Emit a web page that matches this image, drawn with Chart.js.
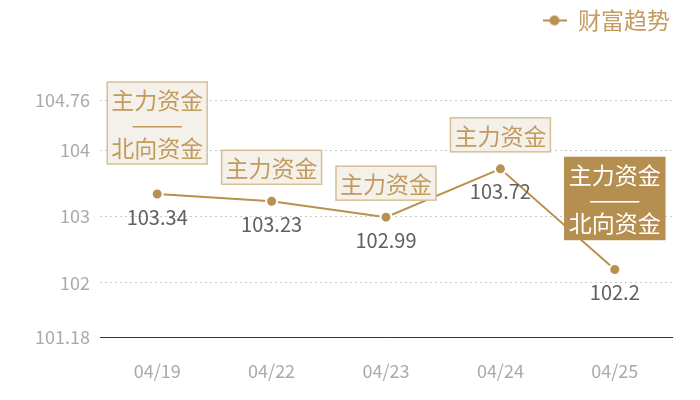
<!DOCTYPE html>
<html>
<head>
<meta charset="utf-8">
<script src="https://cdn.jsdelivr.net/npm/chart.js@4"></script>
<style>
  html, body { margin: 0; padding: 0; background: #fff; }
  #wrap { width: 700px; height: 400px; }
</style>
</head>
<body>
<div id="wrap"><canvas id="myChart"></canvas></div>
<script>
const categories = ['04/19', '04/22', '04/23', '04/24', '04/25']
const wealthValues = [103.34, 103.23, 102.99, 103.72, 102.2]
const yTicks = [101.18, 102, 103, 104, 104.76]
const boxLabels = [
  ['主力资金', '——', '北向资金'],
  ['主力资金'],
  ['主力资金'],
  ['主力资金'],
  ['主力资金', '——', '北向资金']
]
const highlighted = [false, false, false, false, true]

const gold = '#b8914f'
const cjk = '"Noto Sans CJK SC", "Noto Sans", sans-serif'

// legend marker: short line with a dot in the middle
const marker = document.createElement('canvas')
marker.width = 24
marker.height = 12
const mctx = marker.getContext('2d')
mctx.strokeStyle = gold
mctx.lineWidth = 2
mctx.beginPath()
mctx.moveTo(0, 6)
mctx.lineTo(24, 6)
mctx.stroke()
mctx.fillStyle = gold
mctx.beginPath()
mctx.arc(12, 6, 5, 0, Math.PI * 2)
mctx.fill()

const labelPlugin = {
  id: 'labelPlugin',
  afterDatasetsDraw(chart) {
    const c = chart.ctx
    const meta = chart.getDatasetMeta(0)
    meta.data.forEach((pt, i) => {
      // value under point
      c.save()
      c.font = '20px ' + cjk
      c.fillStyle = '#606060'
      c.textAlign = 'center'
      c.textBaseline = 'middle'
      c.fillText(String(wealthValues[i]), pt.x, pt.y + 23)

      // box above point
      const lines = boxLabels[i]
      const lh = 24
      const h = lines.length * lh + 10
      const w = 100
      const gap = lines.length > 1 ? 30 : 17
      const top = pt.y - gap - h
      const left = pt.x - w / 2
      c.fillStyle = highlighted[i] ? '#b58f50' : '#f4f0ea'
      c.strokeStyle = highlighted[i] ? '#b58f50' : '#d8bf95'
      c.lineWidth = 1.5
      c.fillRect(left, top, w, h)
      c.strokeRect(left, top, w, h)
      c.fillStyle = highlighted[i] ? '#ffffff' : '#c29a5c'
      c.font = '23px ' + cjk
      lines.forEach((t, k) => {
        const ty = top + 5 + lh * k + lh / 2 + 1
        if (t === '——') {
          const m = c.measureText(t).width
          c.save()
          c.translate(pt.x, ty)
          c.scale(52 / m, 1)
          c.fillText(t, 0, 0)
          c.restore()
        } else {
          c.fillText(t, pt.x, ty)
        }
      })
      c.restore()
    })
  }
}

const ctx = document.getElementById('myChart')

new Chart(ctx, {
  type: 'line',
  data: {
    labels: categories,
    datasets: [{
      label: '财富趋势',
      data: wealthValues,
      borderColor: gold,
      borderWidth: 2,
      backgroundColor: gold,
      pointBackgroundColor: gold,
      pointBorderColor: '#ffffff',
      pointBorderWidth: 2,
      pointRadius: 5.5,
      pointStyle: 'circle',
      tension: 0
    }]
  },
  options: {
    responsive: true,
    maintainAspectRatio: false,
    animation: false,
    layout: { padding: { top: 7, right: 28, left: 0, bottom: 0 } },
    plugins: {
      legend: {
        position: 'top',
        align: 'end',
        labels: {
          usePointStyle: true,
          pointStyle: marker,
          pointStyleWidth: 24,
          color: '#c39b5f',
          font: { size: 23, family: cjk },
          padding: 2
        }
      },
      // empty spacer under the legend
      title: {
        display: true,
        text: '',
        weight: 500,
        font: { size: 10, lineHeight: 1 },
        padding: { top: 0, bottom: 48 }
      },
      tooltip: { enabled: false }
    },
    scales: {
      x: {
        offset: true,
        grid: { display: false, drawTicks: false },
        border: { display: true, color: '#333', width: 1 },
        ticks: {
          color: '#aaaaaa',
          font: { size: 18, family: cjk },
          padding: 23
        },
        afterFit(scale) { scale.height = 63 }
      },
      y: {
        min: 101.18,
        max: 104.76,
        afterBuildTicks(scale) {
          scale.ticks = yTicks.map(v => ({ value: v }))
        },
        afterFit(scale) { scale.width = 100 },
        border: { display: false, dash: [2, 3] },
        grid: {
          color: '#c8c8c8',
          drawTicks: false,
          lineWidth: 1
        },
        ticks: {
          color: '#aaaaaa',
          font: { size: 18, family: cjk },
          padding: 10,
          callback: v => String(v)
        }
      }
    }
  },
  plugins: [labelPlugin]
})
</script>
</body>
</html>
